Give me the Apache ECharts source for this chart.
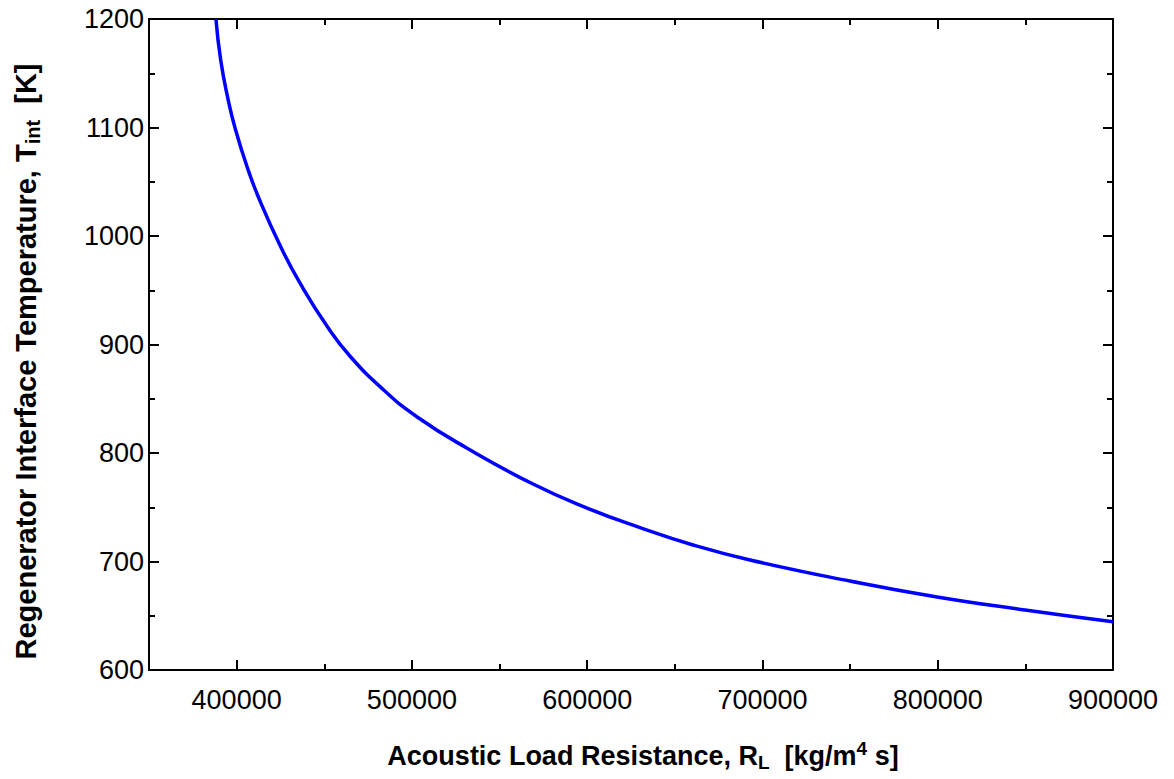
<!DOCTYPE html>
<html>
<head>
<meta charset="utf-8">
<script src="https://cdn.jsdelivr.net/npm/echarts@6/dist/echarts.min.js"></script>
<style>
  html, body { margin: 0; padding: 0; background: #ffffff; }
  #chart { width: 1174px; height: 779px; }
</style>
</head>
<body>
<div id="chart"></div>
<script>
// Acoustic load resistance R_L [kg/m^4 s]
const loadResistance = [
  388200, 390900, 395200, 399100, 406000, 413100, 425200, 436100,
  451900, 465100, 483900, 503000, 531300, 569100, 599900, 630100,
  660400, 692900, 749900, 799600, 849800, 900000
];
// Regenerator interface temperature T_int [K]
const interfaceTemp = [
  1200, 1162.2, 1125.3, 1099.5, 1063.6, 1033.2, 989.9, 956.7,
  916.1, 888.5, 858.1, 833.2, 804.6, 771.4, 749.3, 731.3,
  715.2, 701.4, 682.0, 667.3, 655.3, 644.4
];
// Labelled tick positions
const xTickValues = [400000, 500000, 600000, 700000, 800000, 900000];
const yTickValues = [600, 700, 800, 900, 1000, 1100, 1200];

const FONT = '"Liberation Sans", Arial, Helvetica, sans-serif';
const X_MIN = 350000, X_MAX = 900000;
const Y_MIN = 600, Y_MAX = 1200;

const lineData = loadResistance.map((r, i) => [r, interfaceTemp[i]]);

function titleRich(size) {
  const sub = Math.round(size * 0.7);
  return {
    b:   { fontFamily: FONT, fontWeight: 'bold', fontSize: size, color: '#000' },
    sub: { fontFamily: FONT, fontWeight: 'bold', fontSize: sub, color: '#000', padding: [14, 0, 0, 0] },
    sup: { fontFamily: FONT, fontWeight: 'bold', fontSize: sub, color: '#000', padding: [0, 0, 14, 0] }
  };
}

const axisLineStyle = { show: true, lineStyle: { color: '#000', width: 2 } };
const plainNumber = v => String(v);

function xAxisPair(position, withLabels) {
  return [
    {
      type: 'value', position: position, gridIndex: 0,
      min: X_MIN, max: X_MAX, interval: 50000,
      axisLine: axisLineStyle,
      axisTick: { show: true, inside: true, length: 10, customValues: xTickValues,
                  lineStyle: { color: '#000', width: 2 } },
      axisLabel: withLabels ? {
        show: true, customValues: xTickValues, margin: 16, formatter: plainNumber,
        fontFamily: FONT, fontSize: 27, color: '#000'
      } : { show: false },
      splitLine: { show: false },
      name: withLabels ? '{b|Acoustic Load Resistance, R}{sub|L}{b|  [kg/m}{sup|4}{b| s]}' : '',
      nameLocation: 'middle', nameGap: 69,
      nameTextStyle: { rich: titleRich(27), padding: [0, 0, 0, 24] }
    },
    {
      type: 'value', position: position, gridIndex: 0,
      min: X_MIN, max: X_MAX, interval: 50000,
      axisLine: { show: false },
      axisTick: { show: true, inside: true, length: 6, lineStyle: { color: '#000', width: 2 } },
      axisLabel: { show: false },
      splitLine: { show: false }
    }
  ];
}

function yAxisDef(position, withLabels) {
  return {
    type: 'value', position: position, gridIndex: 0,
    min: Y_MIN, max: Y_MAX, interval: 100,
    axisLine: axisLineStyle,
    axisTick: { show: true, inside: true, length: 10, lineStyle: { color: '#000', width: 2 } },
    minorTick: { show: true, splitNumber: 2, length: 6, lineStyle: { color: '#000', width: 2 } },
    axisLabel: withLabels ? {
      show: true, customValues: yTickValues, margin: 5, formatter: plainNumber,
      fontFamily: FONT, fontSize: 27, color: '#000'
    } : { show: false },
    splitLine: { show: false },
    minorSplitLine: { show: false },
    name: withLabels ? '{b|Regenerator Interface Temperature, T}{sub|int}{b|  [K]}' : '',
    nameLocation: 'middle', nameGap: 106, nameRotate: 90,
    nameTextStyle: { rich: titleRich(29), padding: [0, 34, 0, 0] }
  };
}

const chart = echarts.init(document.getElementById('chart'), null, { renderer: 'svg' });
chart.setOption({
  backgroundColor: '#ffffff',
  animation: false,
  grid: { left: 149, top: 19, width: 964, height: 651, containLabel: false },
  xAxis: [].concat(xAxisPair('bottom', true), xAxisPair('top', false)),
  yAxis: [yAxisDef('left', true), yAxisDef('right', false)],
  series: [{
    type: 'line',
    xAxisIndex: 0, yAxisIndex: 0,
    data: lineData,
    smooth: 0.5,
    symbol: 'none',
    clip: true,
    lineStyle: { color: '#0000ff', width: 3.5 }
  }]
});
</script>
</body>
</html>
